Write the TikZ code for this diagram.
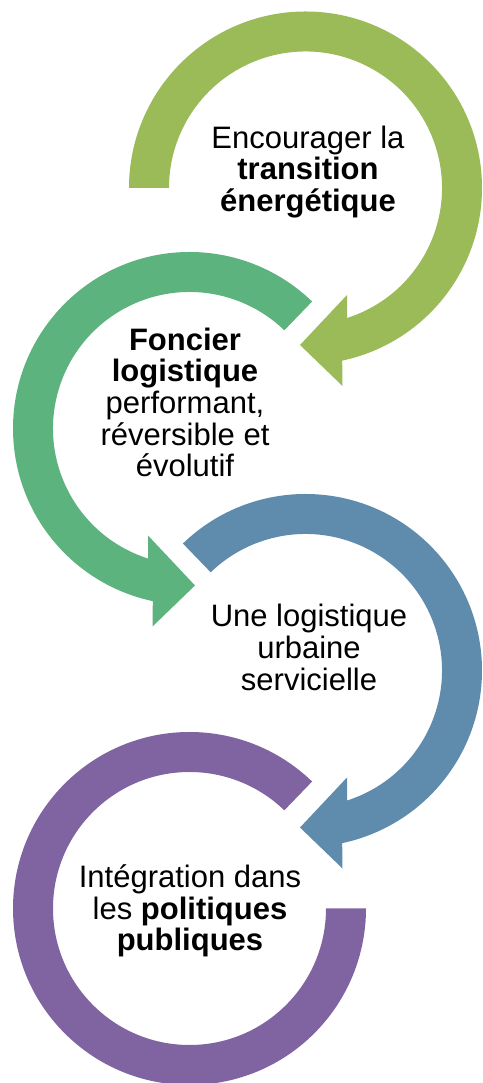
\documentclass[tikz,border=0pt]{standalone}
\usepackage{fontspec}
\setmainfont{Liberation Sans}
\usepackage{tikz}
\usetikzlibrary{calc}
\definecolor{ringolive}{HTML}{9BBB59}
\definecolor{ringgreen}{HTML}{5DB37E}
\definecolor{ringblue}{HTML}{5F8BAD}
\definecolor{ringpurple}{HTML}{8064A2}
\def\ringarrow[#1](#2)(#3:#4){\begin{scope}[shift={(#2)}, xscale=#3]
	\fill[#1] (#4:176.5) arc[start angle=#4, end angle=-78, radius=176.5] -- (37,-198) -- (-5.5,-157) -- (41.5,-107) -- (-72.3:136.5) arc[start angle=-72.3, end angle=#4, radius=136.5] -- cycle;
	\end{scope}}
\tikzset{ringtext/.style={align=center, inner sep=0pt, font=\fontsize{31}{31.7}\selectfont}}

\begin{document}
\begin{tikzpicture}[x=1pt, y=1pt]
			%%%%% START %%%%%
			
			\useasboundingbox (0, 0) rectangle (482, 1083);
			
			\ringarrow[ringolive](305.5, 895)(1:180)
			\ringarrow[ringgreen](189.5, 654.5)(-1:134)
			\ringarrow[ringblue](305.5, 412.5)(1:134)
			
			\fill[ringpurple] (189.5, 174.5) ++(46:176.5) arc[start angle=46, end angle=360, radius=176.5] -- ++(-40, 0) arc[start angle=360, end angle=46, radius=136.5] -- cycle;
			
			\node[ringtext] (encourager) at (308, 911) {Encourager la\\\textbf{transition}\\\textbf{énergétique}};
			\node[ringtext] (foncier) at (185, 680.5) {\textbf{Foncier}\\\textbf{logistique}\\performant,\\réversible et\\évolutif};
			\node[ringtext] (urbaine) at (309, 435.5) {Une logistique\\urbaine\\servicielle};
			\node[ringtext] (integration) at (190, 172) {Intégration dans\\les \textbf{politiques}\\\textbf{publiques}};
			
			%%%%% END %%%%%
\end{tikzpicture}
\end{document}
